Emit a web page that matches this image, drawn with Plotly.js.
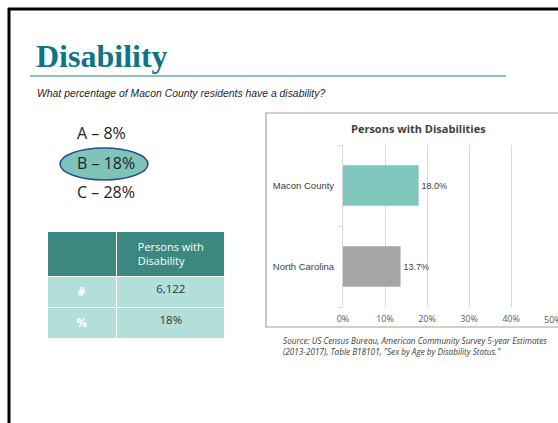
<!DOCTYPE html>
<html>
<head>
<meta charset="utf-8">
<script src="https://cdn.plot.ly/plotly-3.0.1.min.js"></script>
<style>html,body{margin:0;padding:0;background:#fff;}#chart{width:558px;height:423px;}</style>
</head>
<body>
<div id="chart"></div>
<script>
// ---- data ----
var categories = ["Macon County", "North Carolina"];
var values = [18.0, 13.7];
var barLabels = ["18.0%", "13.7%"];
var barColors = ["#7fc6bc", "#a6a6a6"];
var xTickVals = [0, 10, 20, 30, 40, 50];
var xTickText = ["0%", "10%", "20%", "30%", "40%", "50%"];
var choices = ["A \u2013 8%", "B \u2013 18%", "C \u2013 28%"];
var tableHeader = ["", "Persons with<br>Disability"];
var tableRowLabels = ["<b>#</b>", "<b>%</b>"];
var tableRowValues = ["6,122", "18%"];

var W = 558, H = 423;
function px(x){ return x / W; }
function py(y){ return 1 - y / H; }

var bar = {
  type: "bar",
  orientation: "h",
  y: categories,
  x: values,
  text: barLabels,
  textposition: "outside",
  cliponaxis: false,
  textfont: {family: "Liberation Sans, Arial, sans-serif", size: 9, color: "#404040"},
  marker: {color: barColors},
  hoverinfo: "none",
  xaxis: "x", yaxis: "y"
};

var table = {
  type: "table",
  domain: {x: [px(47), px(226)], y: [py(340), py(231)]},
  columnwidth: [70, 109],
  header: {
    values: tableHeader,
    fill: {color: "#3c8780"},
    line: {color: "#ffffff", width: 1.5},
    align: "center",
    height: 37,
    font: {family: "Open Sans, Liberation Sans, sans-serif", size: 11, color: "#ffffff"}
  },
  cells: {
    values: [tableRowLabels, tableRowValues],
    fill: {color: "#b2dfda"},
    line: {color: "#ffffff", width: 1.5},
    align: "center",
    height: 30,
    font: {family: "Open Sans, Liberation Sans, sans-serif", size: 11.5, color: [["#ffffff", "#ffffff"], ["#333333", "#333333"]]}
  }
};

var shapes = [
  // slide border
  {type: "line", xref: "paper", yref: "paper", x0: px(9), x1: px(9), y0: py(8), y1: py(430), line: {color: "#000", width: 3}},
  {type: "line", xref: "paper", yref: "paper", x0: px(8), x1: px(570), y0: py(9), y1: py(9), line: {color: "#000", width: 3}},
  // title underline
  {type: "line", xref: "paper", yref: "paper", x0: px(30), x1: px(506), y0: py(76), y1: py(76), line: {color: "#6fa8b4", width: 1.5}},
  // ellipse
  {type: "circle", xref: "paper", yref: "paper", x0: px(60), x1: px(148), y0: py(180), y1: py(148), fillcolor: "#7ec4bb", line: {color: "#2c4b8c", width: 1.5}, layer: "below"},
  // chart box
  {type: "rect", xref: "paper", yref: "paper", x0: px(266), x1: px(575), y0: py(327), y1: py(113), line: {color: "#a0a0a0", width: 1.2}, fillcolor: "rgba(0,0,0,0)", layer: "below"}
];

var annotations = [
  {text: "<b>Disability</b>", xref: "paper", yref: "paper", x: px(34), y: py(56), xanchor: "left", yanchor: "middle", showarrow: false,
   font: {family: "Liberation Serif, Times New Roman, serif", size: 32, color: "#0f7585"}},
  {text: "<i>What percentage of Macon County residents have a disability?</i>", xref: "paper", yref: "paper", x: px(35), y: py(93), xanchor: "left", yanchor: "middle", showarrow: false,
   font: {family: "Liberation Sans, Arial, sans-serif", size: 10.4, color: "#262626"}},
  {text: "<b>Persons with Disabilities</b>", xref: "paper", yref: "paper", x: px(418), y: py(128), xanchor: "center", yanchor: "middle", showarrow: false,
   font: {family: "Open Sans, Liberation Sans, sans-serif", size: 11, color: "#404040"}},
  {text: "<i>Source: US Census Bureau, American Community Survey 5-year Estimates<br>(2013-2017), Table B18101, \"Sex by Age by Disability Status.\"</i>", xref: "paper", yref: "paper", x: px(281), y: py(346), xanchor: "left", yanchor: "middle", align: "left", showarrow: false,
   font: {family: "Open Sans, Liberation Sans, sans-serif", size: 8.2, color: "#404040"}},
  // last x tick label, which runs off the page edge in the reference
  {text: xTickText[5], xref: "x", yref: "paper", x: xTickVals[5], y: py(319), xanchor: "center", yanchor: "middle", showarrow: false,
   font: {family: "Open Sans, Liberation Sans, sans-serif", size: 9, color: "#595959"}}
];
var choiceY = [133, 163, 192];
for (var i = 0; i < choices.length; i++) {
  annotations.push({text: choices[i], xref: "paper", yref: "paper", x: px(75), y: py(choiceY[i]), xanchor: "left", yanchor: "middle", showarrow: false,
    font: {family: "Open Sans, Liberation Sans, sans-serif", size: 16, color: "#222222"}});
}

var layout = {
  width: W, height: H,
  margin: {l: 0, r: 0, t: 0, b: 0},
  paper_bgcolor: "#ffffff", plot_bgcolor: "rgba(0,0,0,0)",
  showlegend: false,
  bargap: 0.5,
  xaxis: {
    domain: [px(343), 1],
    range: [0, (W - 343) / 4.2],
    tickvals: xTickVals.slice(0, 5), ticktext: xTickText.slice(0, 5),
    showgrid: true, gridcolor: "#d9d9d9", gridwidth: 1,
    zeroline: false, showline: false, ticks: "",
    ticklabelstandoff: 5,
    tickfont: {family: "Open Sans, Liberation Sans, sans-serif", size: 9, color: "#595959"},
    fixedrange: true
  },
  yaxis: {
    domain: [py(307), py(145)],
    type: "category",
    categoryorder: "array",
    categoryarray: ["North Carolina", "Macon County"],
    showline: true, linecolor: "#d9d9d9", linewidth: 1,
    ticks: "outside", tickson: "boundaries", ticklen: 4, tickcolor: "#d9d9d9",
    ticklabelstandoff: 6,
    showgrid: false, zeroline: false,
    tickfont: {family: "Liberation Sans, Arial, sans-serif", size: 9.5, color: "#404040"},
    fixedrange: true
  },
  shapes: shapes,
  annotations: annotations
};

Plotly.newPlot("chart", [table, bar], layout, {displayModeBar: false, staticPlot: true});
</script>
</body>
</html>
